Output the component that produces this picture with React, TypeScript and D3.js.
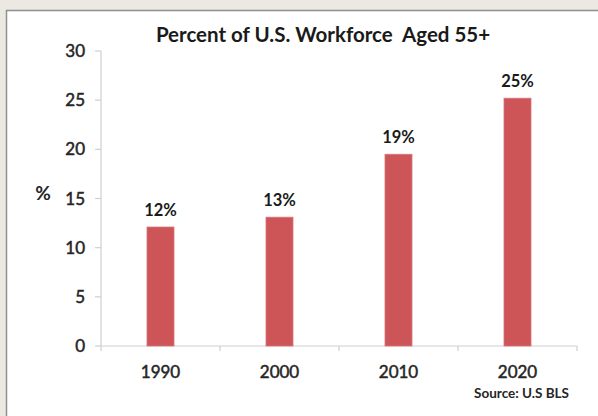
import React from "react";
import * as d3 from "d3";

const categories = ["1990", "2000", "2010", "2020"];
const values = [12.1, 13.1, 19.5, 25.2];
const valueLabels = ["12%", "13%", "19%", "25%"];
const yTicks = [0, 5, 10, 15, 20, 25, 30];
const title = "Percent of U.S. Workforce  Aged 55+";
const source = "Source: U.S BLS";

const W = 598;
const H = 416;
const FONT = "Lato, 'Open Sans', sans-serif";

export default function App() {
  const x = d3.scaleBand<string>().domain(categories).range([101, 577]).padding(0);
  const y = d3.scaleLinear().domain([0, 30]).range([346, 51]);
  const barW = x.bandwidth() * 0.227;
  const axisColor = "#cfcfcf";
  const textColor = "#262626";
  const xTickPos = [...categories.map((c) => x(c) as number), 577];

  return (
    <div style={{ position: "absolute", left: 0, top: 0, width: W, height: H }}>
      <svg width={W} height={H} style={{ display: "block" }}>
        <rect x={0} y={0} width={W} height={H} fill="#ebe9e2" />
        <rect x={7} y={10} width={W - 7} height={H - 10} fill="#ffffff" />
        <line x1={6.5} y1={10} x2={6.5} y2={H} stroke="#8f8f8f" strokeWidth={1.5} />
        <line x1={6} y1={10.5} x2={W} y2={10.5} stroke="#8f8f8f" strokeWidth={1.5} />

        <text
          x={323}
          y={42}
          textAnchor="middle"
          fontFamily={FONT}
          fontWeight={700}
          fontSize={20.5}
          fill="#1a1a1a"
          style={{ whiteSpace: "pre" }}
        >
          {title}
        </text>

        {/* y axis */}
        <line x1={101} y1={y(30)} x2={101} y2={y(0)} stroke={axisColor} strokeWidth={1.2} />
        {yTicks.map((t) => (
          <g key={t}>
            <line x1={95} x2={101} y1={y(t)} y2={y(t)} stroke={axisColor} strokeWidth={1.2} />
            <text
              x={85}
              y={y(t)}
              dy="0.36em"
              textAnchor="end"
              fontFamily={FONT}
              fontSize={17}
              fill={textColor}
              stroke={textColor}
              strokeWidth={0.5}
            >
              {t}
            </text>
          </g>
        ))}
        <text
          x={43}
          y={y(15.5)}
          dy="0.36em"
          textAnchor="middle"
          fontFamily={FONT}
          fontWeight={700}
          fontSize={19}
          fill={textColor}
        >
          %
        </text>

        {/* x axis */}
        <line x1={101} y1={y(0)} x2={577} y2={y(0)} stroke={axisColor} strokeWidth={1.2} />
        {xTickPos.map((p, i) => (
          <line key={i} x1={p} x2={p} y1={y(0)} y2={y(0) + 5} stroke={axisColor} strokeWidth={1.2} />
        ))}
        {categories.map((c) => (
          <text
            key={c}
            x={(x(c) as number) + x.bandwidth() / 2}
            y={378}
            textAnchor="middle"
            fontFamily={FONT}
            fontSize={17}
            fill={textColor}
            stroke={textColor}
            strokeWidth={0.5}
          >
            {c}
          </text>
        ))}

        {/* bars */}
        {categories.map((c, i) => {
          const cx = (x(c) as number) + x.bandwidth() / 2;
          return (
            <g key={c}>
              <rect
                x={cx - barW / 2}
                y={y(values[i])}
                width={barW}
                height={y(0) - y(values[i])}
                fill="#cd5457"
                stroke="#d9777a"
                strokeWidth={0.8}
              />
              <text
                x={cx}
                y={y(values[i]) - 11}
                textAnchor="middle"
                fontFamily={FONT}
                fontWeight={700}
                fontSize={16.5}
                fill="#1a1a1a"
              >
                {valueLabels[i]}
              </text>
            </g>
          );
        })}

        <text
          x={569}
          y={398}
          textAnchor="end"
          fontFamily={FONT}
          fontWeight={700}
          fontSize={13.5}
          fill={textColor}
        >
          {source}
        </text>
      </svg>
    </div>
  );
}
